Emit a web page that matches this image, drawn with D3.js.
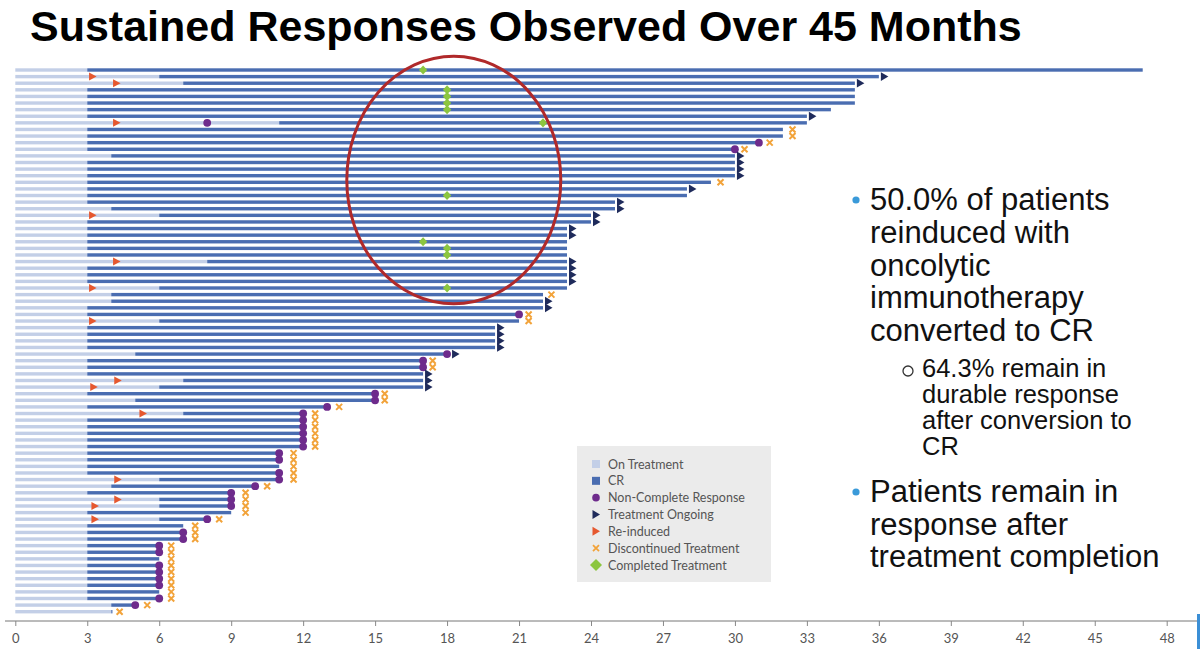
<!DOCTYPE html>
<html>
<head>
<meta charset="utf-8">
<script src="https://cdn.jsdelivr.net/npm/d3@7"></script>
<style>
  body { margin: 0; background: #fff; }
  svg { display: block; }
</style>
</head>
<body>
<svg id="chart" width="1200" height="649"></svg>
<script>
// one entry per patient row, top to bottom (months)
const crStart = [3, 6, 7, 3, 3, 3, 3, 3, 11, 3, 3, 3, 3, 4, 3, 3, 3, 3, 3, 3,
  3, 4, 6, 3, 3, 3, 3, 3, 3, 8, 3, 3, 3, 6, 4, 4, 3, 3, 6, 3,
  3, 3, 3, 5, 3, 3, 3, 7, 6, 3, 5, 3, 7, 3, 3, 3, 3, 3, 3, 3,
  3, 3, 6, 4, 3, 6, 6, 3, 6, 3, 3, 3, 3, 3, 3, 3, 3, 3, 3, 3,
  3, 4, 4];
const endMonth = [47, 36, 35, 35, 35, 35, 34, 33, 33, 32, 32, 31, 30, 30, 30, 30, 30, 29, 28, 28,
  25, 25, 24, 24, 23, 23, 23, 23, 23, 23, 23, 23, 23, 23, 22, 22, 22, 21, 21, 20,
  20, 20, 20, 18, 17, 17, 17, 17, 17, 15, 15, 13, 12, 12, 12, 12, 12, 12, 11, 11,
  11, 11, 11, 10, 9, 9, 9, 9, 8, 7, 7, 7, 6, 6, 6, 6, 6, 6, 6, 6,
  6, 5, 4.05];
const reinduced = [null, 3.2, 4.2, null, null, null, null, null, 4.2, null, null, null, null, null, null, null, null, null, null, null,
  null, null, 3.2, null, null, null, null, null, null, 4.2, null, null, null, 3.2, null, null, null, null, 3.2, null,
  null, null, null, null, null, null, null, 4.25, 3.25, null, null, null, 5.3, null, null, null, null, null, null, null,
  null, null, 4.25, null, null, 4.25, 3.3, null, 3.3, null, null, null, null, null, null, null, null, null, null, null,
  null, null, null];
const nonCR = [null, null, null, null, null, null, null, null, 8, null, null, 31, 30, null, null, null, null, null, null, null,
  null, null, null, null, null, null, null, null, null, null, null, null, null, null, null, null, null, 21, null, null,
  null, null, null, 18, 17, 17, null, null, null, 15, 15, 13, 12, 12, 12, 12, 12, 12, 11, 11,
  null, 11, 11, 10, 9, 9, 9, null, 8, null, 7, 7, 6, 6, null, 6, 6, 6, 6, null,
  6, 5, null];
const ongoing = [0, 1, 1, 0, 0, 0, 0, 1, 0, 0, 0, 0, 0, 1, 1, 1, 1, 0, 1, 0,
  1, 1, 1, 1, 1, 1, 0, 0, 0, 1, 1, 1, 1, 0, 0, 1, 1, 0, 0, 1,
  1, 1, 1, 1, 0, 0, 1, 1, 1, 0, 0, 0, 0, 0, 0, 0, 0, 0, 0, 0,
  0, 0, 0, 0, 0, 0, 0, 0, 0, 0, 0, 0, 0, 0, 0, 0, 0, 0, 0, 0,
  0, 0, 0];
const discontinued = [null, null, null, null, null, null, null, null, null, 32.4, 32.4, 31.45, 30.4, null, null, null, null, 29.4, null, null,
  null, null, null, null, null, null, null, null, null, null, null, null, null, null, 22.35, null, null, 21.4, 21.4, null,
  null, null, null, null, 17.4, 17.4, null, null, null, 15.4, 15.4, 13.5, 12.5, 12.5, 12.5, 12.5, 12.5, 12.5, 11.6, 11.6,
  11.6, 11.6, 11.6, 10.5, 9.6, 9.6, 9.6, 9.6, 8.5, 7.5, 7.5, 7.5, 6.5, 6.5, 6.5, 6.5, 6.5, 6.5, 6.5, 6.5,
  6.5, 5.5, 4.35];
const completed = [17, null, null, 18, 18, 18, 18, null, 22, null, null, null, null, null, null, null, null, null, null, 18,
  null, null, null, null, null, null, 17, 18, 18, null, null, null, null, 18, null, null, null, null, null, null,
  null, null, null, null, null, null, null, null, null, null, null, null, null, null, null, null, null, null, null, null,
  null, null, null, null, null, null, null, null, null, null, null, null, null, null, null, null, null, null, null, null,
  null, null, null];

const xTicks = d3.range(0, 49, 3);
const legendLabels = ['On Treatment', 'CR', 'Non-Complete Response', 'Treatment Ongoing',
  'Re-induced', 'Discontinued Treatment', 'Completed Treatment'];

const titleText = 'Sustained Responses Observed Over 45 Months';
const bullet1 = ['50.0% of patients', 'reinduced with', 'oncolytic', 'immunotherapy', 'converted to CR'];
const subBullet = ['64.3% remain in', 'durable response', 'after conversion to', 'CR'];
const bullet2 = ['Patients remain in', 'response after', 'treatment completion'];

// highlight ellipse around the completed-treatment markers (months / rows)
const ellipseMonths = [13.82, 22.74];
const ellipseRows = [-2.1, 35.4];

const colors = {
  onTx: '#c3cfe7',
  cr: '#4a6db1',
  ncr: '#6e2b8c',
  ongoing: '#1f2b5b',
  reind: '#e6582f',
  disc: '#f2a33a',
  done: '#8cc63f'
};

const svg = d3.select('#chart');
const rows = d3.range(crStart.length);

const x = d3.scaleLinear().domain([0, 48]).range([15.3, 1166.7]);
const y = d3.scalePoint().domain(rows).range([70, 611.7]);
const barH = 3.4;

// title
svg.append('text')
  .attr('x', 30)
  .attr('y', 41)
  .style('font-family', '"Liberation Sans", Arial, sans-serif')
  .style('font-weight', 'bold')
  .style('font-size', '43px')
  .style('fill', '#000')
  .text(titleText);

const g = svg.append('g');

// on treatment (light) bars
g.selectAll('.ontx')
  .data(rows)
  .enter().append('rect')
  .attr('class', 'ontx')
  .attr('x', x(0))
  .attr('y', i => y(i) - barH / 2)
  .attr('width', i => x(Math.min(crStart[i], endMonth[i])) - x(0))
  .attr('height', barH)
  .attr('fill', colors.onTx);

// CR (dark) bars
g.selectAll('.cr')
  .data(rows.filter(i => endMonth[i] > crStart[i]))
  .enter().append('rect')
  .attr('class', 'cr')
  .attr('x', i => x(crStart[i]))
  .attr('y', i => y(i) - barH / 2)
  .attr('width', i => x(endMonth[i]) - x(crStart[i]))
  .attr('height', barH)
  .attr('fill', colors.cr);

// re-induced triangles
g.selectAll('.reind')
  .data(rows.filter(i => reinduced[i] != null))
  .enter().append('path')
  .attr('class', 'reind')
  .attr('d', 'M-3,-4 L4.5,0 L-3,4 Z')
  .attr('transform', i => `translate(${x(reinduced[i])},${y(i)})`)
  .attr('fill', colors.reind);

// non-complete response dots
g.selectAll('.ncr')
  .data(rows.filter(i => nonCR[i] != null))
  .enter().append('circle')
  .attr('class', 'ncr')
  .attr('cx', i => x(nonCR[i]))
  .attr('cy', i => y(i))
  .attr('r', 3.9)
  .attr('fill', colors.ncr);

// treatment ongoing arrows
g.selectAll('.ongoing')
  .data(rows.filter(i => ongoing[i]))
  .enter().append('path')
  .attr('class', 'ongoing')
  .attr('d', 'M0,-4.4 L7.5,0 L0,4.4 Z')
  .attr('transform', i => `translate(${x(endMonth[i]) + (nonCR[i] != null ? 5 : 2)},${y(i)})`)
  .attr('fill', colors.ongoing);

// discontinued crosses
g.selectAll('.disc')
  .data(rows.filter(i => discontinued[i] != null))
  .enter().append('path')
  .attr('class', 'disc')
  .attr('d', 'M-3,-3 L3,3 M-3,3 L3,-3')
  .attr('transform', i => `translate(${x(discontinued[i])},${y(i)})`)
  .attr('stroke', colors.disc)
  .attr('stroke-width', 2)
  .attr('fill', 'none');

// completed treatment diamonds
g.selectAll('.done')
  .data(rows.filter(i => completed[i] != null))
  .enter().append('path')
  .attr('class', 'done')
  .attr('d', 'M0,-4.6 L4.2,0 L0,4.6 L-4.2,0 Z')
  .attr('transform', i => `translate(${x(completed[i])},${y(i)})`)
  .attr('fill', colors.done);

// highlight ellipse
const rowStep = y.step();
const ey0 = y(0) + ellipseRows[0] * rowStep;
const ey1 = y(0) + ellipseRows[1] * rowStep;
g.append('ellipse')
  .attr('cx', (x(ellipseMonths[0]) + x(ellipseMonths[1])) / 2)
  .attr('cy', (ey0 + ey1) / 2)
  .attr('rx', (x(ellipseMonths[1]) - x(ellipseMonths[0])) / 2)
  .attr('ry', (ey1 - ey0) / 2)
  .attr('fill', 'none')
  .attr('stroke', '#b0292a')
  .attr('stroke-width', 3);

// x axis
const axisY = 621;
svg.append('line')
  .attr('x1', 5).attr('x2', 1197)
  .attr('y1', axisY).attr('y2', axisY)
  .attr('stroke', '#777')
  .attr('stroke-width', 1);

const axis = svg.append('g')
  .attr('transform', `translate(0,${axisY})`)
  .call(d3.axisBottom(x).tickValues(xTicks).tickSize(5).tickPadding(8));
axis.select('.domain').remove();
axis.selectAll('line').attr('stroke', '#888');
axis.selectAll('text')
  .style('font-family', 'Lato, "Open Sans", sans-serif')
  .style('font-size', '13px')
  .style('fill', '#555');

// blue edge mark at the slide border
svg.append('rect')
  .attr('x', 1197).attr('y', 614)
  .attr('width', 3).attr('height', 35)
  .attr('fill', '#3b8fd6');

// legend
const legend = svg.append('g').attr('transform', 'translate(577,446)');
legend.append('rect')
  .attr('width', 194).attr('height', 136)
  .attr('fill', '#ebebeb');

const legendY = d3.scalePoint().domain(legendLabels).range([18, 119]);
const item = legend.selectAll('.item')
  .data(legendLabels)
  .enter().append('g')
  .attr('class', 'item')
  .attr('transform', d => `translate(19,${legendY(d)})`);

item.append('text')
  .attr('x', 12)
  .attr('y', 4.5)
  .style('font-family', 'Lato, "Open Sans", sans-serif')
  .style('font-size', '12.5px')
  .style('fill', '#555')
  .text(d => d);

item.each(function(d, k) {
  const s = d3.select(this);
  if (k === 0) s.append('rect').attr('x', -4).attr('y', -4).attr('width', 8).attr('height', 8).attr('fill', colors.onTx);
  if (k === 1) s.append('rect').attr('x', -4).attr('y', -4).attr('width', 8).attr('height', 8).attr('fill', colors.cr);
  if (k === 2) s.append('circle').attr('r', 3.8).attr('fill', colors.ncr);
  if (k === 3) s.append('path').attr('d', 'M-3.5,-4.5 L4,0 L-3.5,4.5 Z').attr('fill', colors.ongoing);
  if (k === 4) s.append('path').attr('d', 'M-3.5,-4.5 L4,0 L-3.5,4.5 Z').attr('fill', colors.reind);
  if (k === 5) s.append('path').attr('d', 'M-3,-3 L3,3 M-3,3 L3,-3').attr('stroke', colors.disc).attr('stroke-width', 1.8);
  if (k === 6) s.append('path').attr('d', 'M0,-6 L6,0 L0,6 L-6,0 Z').attr('fill', colors.done);
});

// right-hand text block: one paragraph per bullet, lines as tspans
const txt = svg.append('g')
  .style('font-family', '"Liberation Sans", Arial, sans-serif')
  .style('fill', '#111');

function bulletBlock(lines, x0, y0, lh, size) {
  const t = txt.append('text')
    .attr('x', x0).attr('y', y0)
    .style('font-size', size + 'px');
  t.selectAll('tspan')
    .data(lines)
    .enter().append('tspan')
    .attr('x', x0)
    .attr('dy', (d, k) => k === 0 ? 0 : lh)
    .text(d => d);
}

txt.append('circle').attr('cx', 856).attr('cy', 200).attr('r', 3.6).attr('fill', '#3a9ad9');
bulletBlock(bullet1, 870, 210, 32.8, 31);

txt.append('circle').attr('cx', 908).attr('cy', 371).attr('r', 5)
  .attr('fill', 'none').attr('stroke', '#333').attr('stroke-width', 1.3);
bulletBlock(subBullet, 922, 377, 26, 25.5);

txt.append('circle').attr('cx', 856).attr('cy', 492).attr('r', 3.6).attr('fill', '#3a9ad9');
bulletBlock(bullet2, 870, 502, 32.5, 31);
</script>
</body>
</html>
